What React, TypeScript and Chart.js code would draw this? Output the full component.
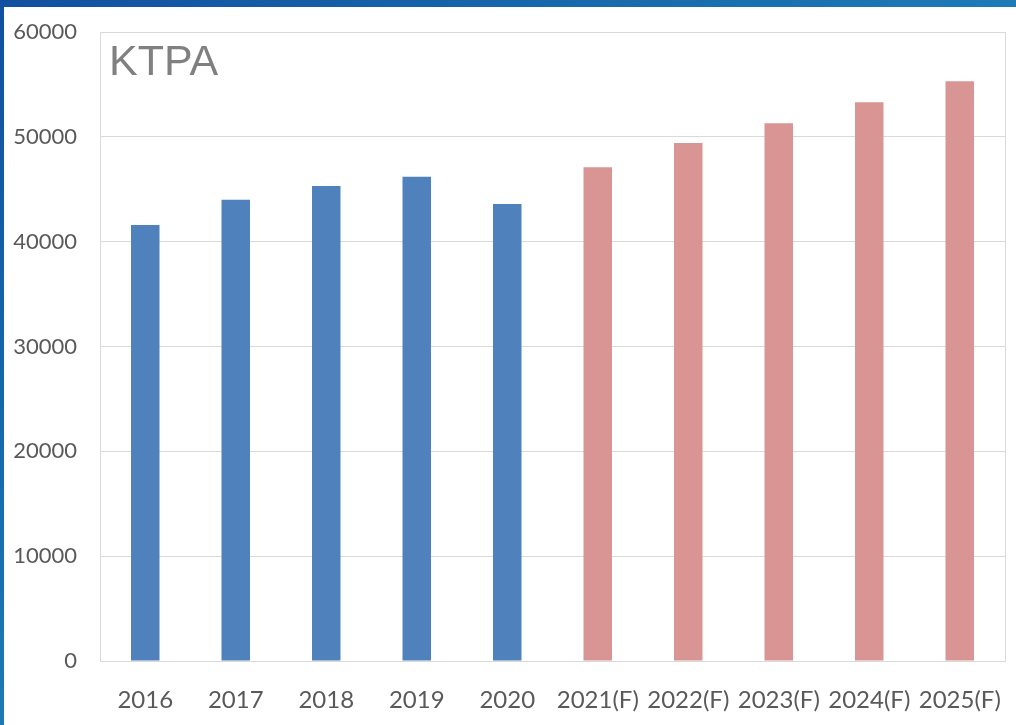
import React, { useEffect, useRef } from "react";
import { Chart, registerables } from "chart.js";

Chart.register(...registerables);

const categories = ["2016", "2017", "2018", "2019", "2020", "2021(F)", "2022(F)", "2023(F)", "2024(F)", "2025(F)"];
const values = [41600, 44000, 45300, 46200, 43600, 47100, 49400, 51300, 53300, 55300];
const isForecast = [false, false, false, false, false, true, true, true, true, true];
const unitLabel = "KTPA";
const yMax = 60000;
const yStep = 10000;

const ACTUAL_COLOR = "#4f81bd";
const FORECAST_COLOR = "#d99594";
const GRID = "#d9d9d9";
const TEXT = "#595959";

const rightBorder = {
  id: "rightBorder",
  afterDraw(chart: any) {
    const { ctx, chartArea } = chart;
    ctx.save();
    ctx.strokeStyle = GRID;
    ctx.lineWidth = 1;
    ctx.beginPath();
    const x = Math.round(chartArea.right) + 0.5;
    ctx.moveTo(x, chartArea.top);
    ctx.lineTo(x, chartArea.bottom);
    ctx.stroke();
    ctx.restore();
  },
};

export default function App() {
  const ref = useRef<HTMLCanvasElement | null>(null);

  useEffect(() => {
    if (!ref.current) return;
    const chart = new Chart(ref.current, {
      type: "bar",
      data: {
        labels: categories,
        datasets: [
          {
            data: values,
            backgroundColor: isForecast.map((f) => (f ? FORECAST_COLOR : ACTUAL_COLOR)),
            borderWidth: 0,
            barPercentage: 0.315,
            categoryPercentage: 1,
          },
        ],
      },
      options: {
        responsive: false,
        animation: false,
        layout: { padding: { top: 32, right: 11, bottom: 0, left: 0 } },
        plugins: {
          legend: { display: false },
          tooltip: { enabled: false },
          title: { display: false },
        },
        scales: {
          x: {
            grid: { display: false, drawTicks: true, tickLength: 23 },
            border: { display: true, color: GRID, width: 1 },
            ticks: {
              color: TEXT,
              font: { family: "Lato", size: 24 },
              padding: 2,
              maxRotation: 0,
              autoSkip: false,
            },
            afterFit(scale: any) {
              scale.height = 64;
            },
          },
          y: {
            min: 0,
            max: yMax,
            grid: { color: GRID, drawTicks: true, tickLength: 21, tickColor: "rgba(0,0,0,0)" },
            border: { display: true, color: GRID, width: 1 },
            ticks: {
              stepSize: yStep,
              color: TEXT,
              font: { family: "Lato", size: 22 },
              padding: 2,
              callback: (v: any) => String(v),
            },
            afterFit(scale: any) {
              scale.width = 100;
            },
          },
        },
      },
      plugins: [rightBorder],
    });
    return () => chart.destroy();
  }, []);

  return (
    <div style={{ position: "absolute", left: 0, top: 0, width: 1016, height: 725, background: "#ffffff", overflow: "hidden" }}>
      <canvas ref={ref} width={1016} height={725} style={{ position: "absolute", left: 0, top: 0, width: 1016, height: 725 }} />
      <div
        style={{
          position: "absolute",
          left: 109,
          top: 39,
          fontFamily: "'Liberation Sans', Arial, sans-serif",
          fontSize: 43,
          lineHeight: 1,
          color: "#808080",
        }}
      >
        {unitLabel}
      </div>
      <div
        style={{
          position: "absolute",
          left: 0,
          top: 0,
          width: 1016,
          height: 7,
          background: "linear-gradient(to right, #1150a0, #1d7bb6)",
        }}
      />
      <div
        style={{
          position: "absolute",
          left: 0,
          top: 0,
          width: 4,
          height: 725,
          background: "linear-gradient(to bottom, #1150a0, #1b7ab3)",
        }}
      />
    </div>
  );
}
